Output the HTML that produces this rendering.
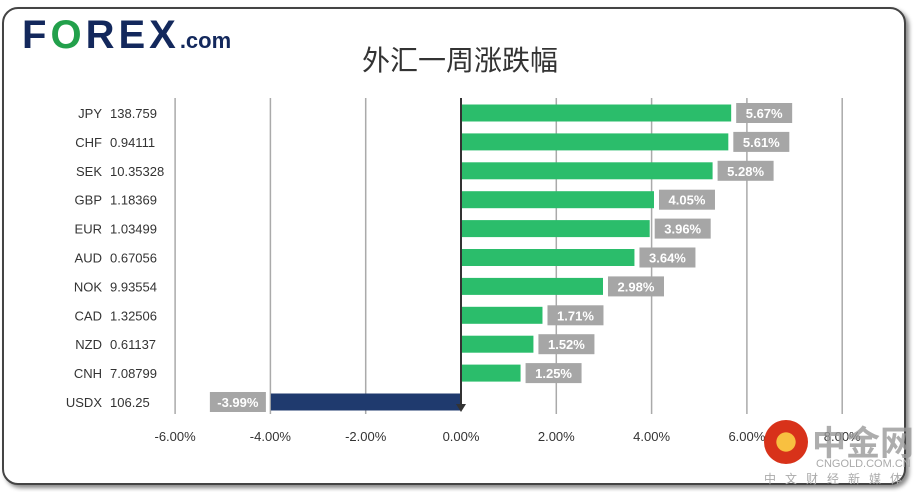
<!DOCTYPE html>
<html><head><meta charset="utf-8"><style>
body{margin:0;width:920px;height:492px;background:#fff;overflow:hidden;font-family:"Liberation Sans","Noto Sans CJK SC",sans-serif}
.frame{position:absolute;left:2px;top:7px;width:900px;height:474px;border:2px solid #444;border-radius:16px;box-shadow:3px 3px 4px #888;background:#fff}
</style></head><body>
<div class="frame"></div>
<div style="position:absolute;left:22px;top:13px;font:900 40px 'Liberation Sans',sans-serif;color:#13285c;letter-spacing:4px">F<span style="color:#22a04b">O</span>REX<span style="font-size:22px;font-weight:bold;letter-spacing:0">.com</span></div>
<svg width="920" height="492" style="position:absolute;left:0;top:0" id="chart">
<text x="460" y="70" text-anchor="middle" font-size="28" fill="#333" font-family="Liberation Sans,Noto Sans CJK SC,sans-serif">外汇一周涨跌幅</text>
</svg>
<div style="position:absolute;left:764px;top:418px;width:150px;height:70px">
<div style="position:absolute;left:0;top:2px;width:44px;height:44px;border-radius:50%;background:radial-gradient(circle at 50% 50%,#f8c040 0 30%,#d8321a 32%)"></div>
<div style="position:absolute;left:48px;top:-2px;font:bold 34px 'Noto Sans CJK SC',sans-serif;color:#999;opacity:.8">中金网</div>
<div style="position:absolute;left:52px;top:40px;font:11px 'Liberation Sans',sans-serif;color:#aaa">CNGOLD.COM.CN</div>
<div style="position:absolute;left:0;top:52px;font:12px 'Noto Sans CJK SC',sans-serif;color:#aaa;letter-spacing:9px">中文财经新媒体</div>
</div>
<script>
const codes=["JPY","CHF","SEK","GBP","EUR","AUD","NOK","CAD","NZD","CNH","USDX"];
const prices=["138.759","0.94111","10.35328","1.18369","1.03499","0.67056","9.93554","1.32506","0.61137","7.08799","106.25"];
const changes=[5.67,5.61,5.28,4.05,3.96,3.64,2.98,1.71,1.52,1.25,-3.99];
const ticks=[-6,-4,-2,0,2,4,6,8];
const svg=document.getElementById('chart');const NS='http://www.w3.org/2000/svg';
const x=v=>461+v*47.65;const y=i=>113+i*28.9;
function mk(t,a){const e=document.createElementNS(NS,t);for(const k in a)e.setAttribute(k,a[k]);svg.appendChild(e);return e;}
ticks.forEach(t=>{if(t!==0){const l=mk('line',{x1:x(t),x2:x(t),y1:98,y2:414,stroke:'#aaa','stroke-width':1.5});

}
const tx=mk('text',{x:x(t),y:441,'text-anchor':'middle','font-size':13,fill:'#333'});tx.textContent=t.toFixed(2)+'%';

});
changes.forEach((v,i)=>{const cy=y(i);
const b=mk('rect',{x:Math.min(x(0),x(v)),y:cy-8.5,width:Math.abs(x(v)-x(0)),height:17,fill:v>=0?'#2bbd6b':'#1f3a6e'});


const lw=56,lx=v>=0?x(v)+5:x(v)-5-lw;
const r=mk('rect',{x:lx,y:cy-10,width:lw,height:20,fill:'#a6a6a6'});


const t=mk('text',{x:lx+lw/2,y:cy+5,'text-anchor':'middle','font-size':13,'font-weight':'bold',fill:'#fff'});t.textContent=v.toFixed(2)+'%';


const c=mk('text',{x:102,y:cy+5,'text-anchor':'end','font-size':13,fill:'#333'});c.textContent=codes[i];


const p=mk('text',{x:110,y:cy+5,'font-size':13,fill:'#333'});p.textContent=prices[i];

});
const ax=mk('line',{x1:x(0),x2:x(0),y1:98,y2:405,stroke:'#333','stroke-width':2});


const ar=mk('path',{d:`M${x(0)-5} 404 L${x(0)+5} 404 L${x(0)} 412 Z`,fill:'#333'});


</script>
</body></html>
